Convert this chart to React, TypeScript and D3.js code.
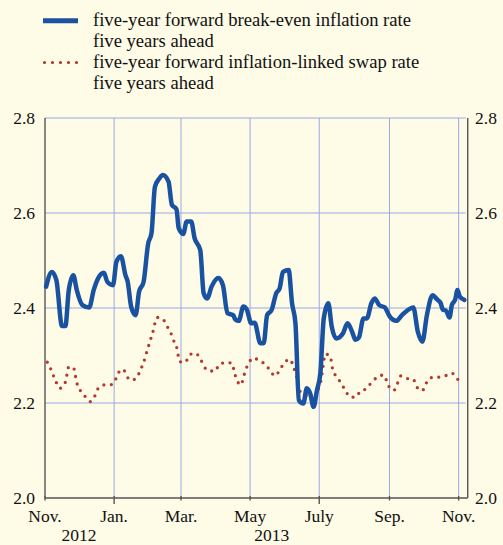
import React from "react";
import * as d3 from "d3";

// ---- Data ----
const breakEvenDates = [
  "2012-11-02","2012-11-07","2012-11-11","2012-11-16","2012-11-19","2012-11-22","2012-11-26","2012-11-29",
  "2012-12-04","2012-12-10","2012-12-14","2012-12-18","2012-12-23","2012-12-26","2012-12-31",
  "2013-01-03","2013-01-07","2013-01-11","2013-01-13","2013-01-16","2013-01-20","2013-01-23","2013-01-27","2013-01-31",
  "2013-02-03","2013-02-06","2013-02-10","2013-02-13","2013-02-18","2013-02-21","2013-02-25","2013-02-27",
  "2013-03-03","2013-03-06","2013-03-10","2013-03-13","2013-03-18","2013-03-21","2013-03-24","2013-03-28",
  "2013-04-03","2013-04-07","2013-04-11","2013-04-16","2013-04-18","2013-04-21","2013-04-25","2013-04-28",
  "2013-05-02","2013-05-05","2013-05-10","2013-05-13","2013-05-16","2013-05-20","2013-05-24","2013-05-27","2013-05-30",
  "2013-06-04","2013-06-07","2013-06-10","2013-06-13","2013-06-17","2013-06-20","2013-06-23","2013-06-26","2013-06-29",
  "2013-07-02","2013-07-05","2013-07-09","2013-07-12","2013-07-16","2013-07-22","2013-07-26","2013-07-30",
  "2013-08-02","2013-08-05","2013-08-09","2013-08-12","2013-08-16","2013-08-19","2013-08-23","2013-08-28",
  "2013-09-01","2013-09-07","2013-09-12","2013-09-18","2013-09-22","2013-09-26","2013-09-30",
  "2013-10-04","2013-10-09","2013-10-13","2013-10-16","2013-10-18","2013-10-21","2013-10-24","2013-10-26","2013-10-29","2013-10-31",
  "2013-11-02","2013-11-06"
];
const breakEvenValues = [
  2.445,2.476,2.459,2.362,2.362,2.438,2.469,2.438,
  2.406,2.401,2.438,2.463,2.474,2.455,2.448,
  2.497,2.509,2.469,2.455,2.403,2.385,2.434,2.455,2.535,
  2.558,2.655,2.673,2.680,2.666,2.617,2.608,2.568,
  2.556,2.582,2.582,2.547,2.522,2.431,2.420,2.445,
  2.463,2.448,2.389,2.385,2.376,2.373,2.403,2.397,
  2.368,2.369,2.326,2.326,2.385,2.396,2.431,2.441,2.476,
  2.480,2.410,2.368,2.206,2.199,2.231,2.220,2.192,2.227,
  2.263,2.378,2.410,2.361,2.336,2.347,2.368,2.350,
  2.333,2.338,2.378,2.378,2.410,2.420,2.406,2.401,
  2.383,2.373,2.385,2.397,2.401,2.350,2.329,
  2.385,2.427,2.418,2.411,2.397,2.394,2.380,2.406,2.418,2.438,
  2.424,2.417
];

const swapDates = [
  "2012-11-03","2012-11-06","2012-11-11","2012-11-14","2012-11-19","2012-11-22","2012-11-26","2012-11-29",
  "2012-12-02","2012-12-06","2012-12-11","2012-12-15","2012-12-18","2012-12-23","2012-12-30",
  "2013-01-03","2013-01-06","2013-01-09","2013-01-12","2013-01-16","2013-01-21","2013-01-24","2013-01-27","2013-01-29","2013-01-31",
  "2013-02-04","2013-02-08","2013-02-13","2013-02-16","2013-02-20","2013-02-22","2013-02-25","2013-02-28",
  "2013-03-05","2013-03-08","2013-03-13","2013-03-18","2013-03-21","2013-03-26","2013-03-31",
  "2013-04-04","2013-04-10","2013-04-15","2013-04-17","2013-04-19","2013-04-23","2013-04-25","2013-04-27","2013-04-30",
  "2013-05-04","2013-05-09","2013-05-15","2013-05-19","2013-05-23","2013-05-27","2013-05-31",
  "2013-06-05","2013-06-08","2013-06-10","2013-06-12","2013-06-13","2013-06-17","2013-06-22","2013-06-26","2013-06-29",
  "2013-07-01","2013-07-03","2013-07-04","2013-07-05","2013-07-06","2013-07-10","2013-07-12","2013-07-13","2013-07-17","2013-07-24","2013-07-28",
  "2013-08-02","2013-08-06","2013-08-12","2013-08-16","2013-08-21","2013-08-27","2013-08-30",
  "2013-09-02","2013-09-05","2013-09-08","2013-09-11","2013-09-16","2013-09-22","2013-09-25","2013-09-30",
  "2013-10-03","2013-10-07","2013-10-13","2013-10-20","2013-10-26","2013-10-31","2013-11-05"
];
const swapValues = [
  2.286,2.272,2.243,2.231,2.244,2.276,2.275,2.243,
  2.227,2.215,2.203,2.215,2.231,2.238,2.239,
  2.253,2.268,2.271,2.257,2.248,2.253,2.269,2.285,2.301,2.317,
  2.348,2.380,2.377,2.364,2.348,2.334,2.319,2.287,
  2.286,2.300,2.305,2.294,2.278,2.268,2.267,
  2.282,2.285,2.284,2.266,2.250,2.238,2.253,2.269,2.285,
  2.295,2.289,2.280,2.267,2.257,2.269,2.284,
  2.292,2.278,2.263,2.245,2.229,2.219,2.213,2.205,2.220,
  2.236,2.253,2.271,2.287,2.303,2.300,2.284,2.268,2.254,2.227,2.213,
  2.212,2.224,2.231,2.243,2.254,2.259,2.243,
  2.229,2.227,2.241,2.257,2.252,2.250,2.234,2.226,
  2.240,2.253,2.254,2.257,2.263,2.250,2.248
];

const yTicks = [2.0, 2.2, 2.4, 2.6, 2.8];
const xTickDates = ["2012-11-01","2013-01-01","2013-03-01","2013-05-01","2013-07-01","2013-09-01","2013-11-01"];
const xTickLabels = ["Nov.","Jan.","Mar.","May","July","Sep.","Nov."];
const yearLabels = ["2012","2013"];
const yearLabelDates = ["2012-12-01","2013-05-20"];
const legendLabels = [
  ["five-year forward break-even inflation rate", "five years ahead"],
  ["five-year forward inflation-linked swap rate", "five years ahead"],
];

const W = 503, H = 545;
const M = { left: 45, right: 35.3, top: 118, bottom: 47 };
const BG = "#fefbe6";
const BLUE = "#1a52a2";
const RED = "#b23a2e";
const GRID = "#9ba8e6";
const AXIS = "#555";
const FONT = "Liberation Serif, DejaVu Serif, serif";

export default function App() {
  const parse = d3.timeParse("%Y-%m-%d");
  const x = d3.scaleTime()
    .domain([parse("2012-11-01")!, parse("2013-11-09")!])
    .range([M.left, W - M.right]);
  const y = d3.scaleLinear().domain([2.0, 2.8]).range([H - M.bottom, M.top]);

  const blue = breakEvenDates.map((d, i) => ({ d: parse(d)!, v: breakEvenValues[i] }));
  const red = swapDates.map((d, i) => ({ d: parse(d)!, v: swapValues[i] }));
  const line = d3.line<{ d: Date; v: number }>()
    .x((p) => x(p.d))
    .y((p) => y(p.v))
    .curve(d3.curveMonotoneX);

  const x0 = M.left, x1 = W - M.right, yb = H - M.bottom, yt = M.top;
  const fs = 17.5;
  const ts: React.CSSProperties = { fontFamily: FONT, fontSize: fs };
  const ls: React.CSSProperties = { fontFamily: FONT, fontSize: 18.6 };

  return (
    <svg width={W} height={H} style={{ position: "absolute", left: 0, top: 0, display: "block" }}>
      <rect x={0} y={0} width={W} height={H} fill={BG} />
      {/* legend */}
      <g>
        <line x1={43} x2={78} y1={20.7} y2={20.7} stroke={BLUE} strokeWidth={5} />
        <line x1={44.5} x2={78} y1={62.5} y2={62.5} stroke={RED} strokeWidth={3.2}
          strokeDasharray="0 8" strokeLinecap="round" />
        {legendLabels.map((lines, i) =>
          lines.map((t, j) => (
            <text key={i + "-" + j} x={93} y={26 + i * 42 + j * 21} style={ls} fill="#111">{t}</text>
          ))
        )}
      </g>
      {/* grid */}
      <g>
        {yTicks.filter((t) => t !== 2.0).map((t) => (
          <line key={t} x1={x0} x2={x1 - 2} y1={y(t)} y2={y(t)} stroke={GRID} strokeWidth={1} />
        ))}
        {xTickDates.slice(1).map((d) => (
          <line key={d} x1={x(parse(d)!)} x2={x(parse(d)!)} y1={yt} y2={yb} stroke={GRID} strokeWidth={1} />
        ))}
      </g>
      {/* axes */}
      <g stroke={AXIS} strokeWidth={1.4} fill="none">
        <line x1={x0} x2={x0} y1={yt} y2={yb} />
        <line x1={x1} x2={x1} y1={yt} y2={yb} />
        <line x1={x0} x2={x1} y1={yb} y2={yb} />
        {xTickDates.map((d, i) => {
          const xx = x(parse(d)!);
          const big = xTickLabels[i] === "Jan." || xTickLabels[i] === "July";
          return <line key={d} x1={xx} x2={xx} y1={yb - 2} y2={yb + (big ? 6 : 2.5)} />;
        })}
      </g>
      {/* y labels */}
      {yTicks.map((t) => (
        <g key={t}>
          <text x={35} y={y(t) + 6} style={ts} textAnchor="end" fill="#111">{t.toFixed(1)}</text>
          <text x={475} y={y(t) + 6} style={ts} textAnchor="start" fill="#111">{t.toFixed(1)}</text>
        </g>
      ))}
      {/* x labels */}
      {xTickDates.map((d, i) => (
        <text key={d + i} x={x(parse(d)!)} y={522} style={ts} textAnchor="middle" fill="#111">{xTickLabels[i]}</text>
      ))}
      {yearLabels.map((t, i) => (
        <text key={t} x={x(parse(yearLabelDates[i])!)} y={541} style={ts} textAnchor="middle" fill="#111">{t}</text>
      ))}
      {/* series */}
      <path d={line(red) || ""} fill="none" stroke={RED} strokeWidth={3.3}
        strokeDasharray="0 7.5" strokeLinecap="round" />
      <path d={line(blue) || ""} fill="none" stroke={BLUE} strokeWidth={4.5}
        strokeLinejoin="round" strokeLinecap="round" />
    </svg>
  );
}
